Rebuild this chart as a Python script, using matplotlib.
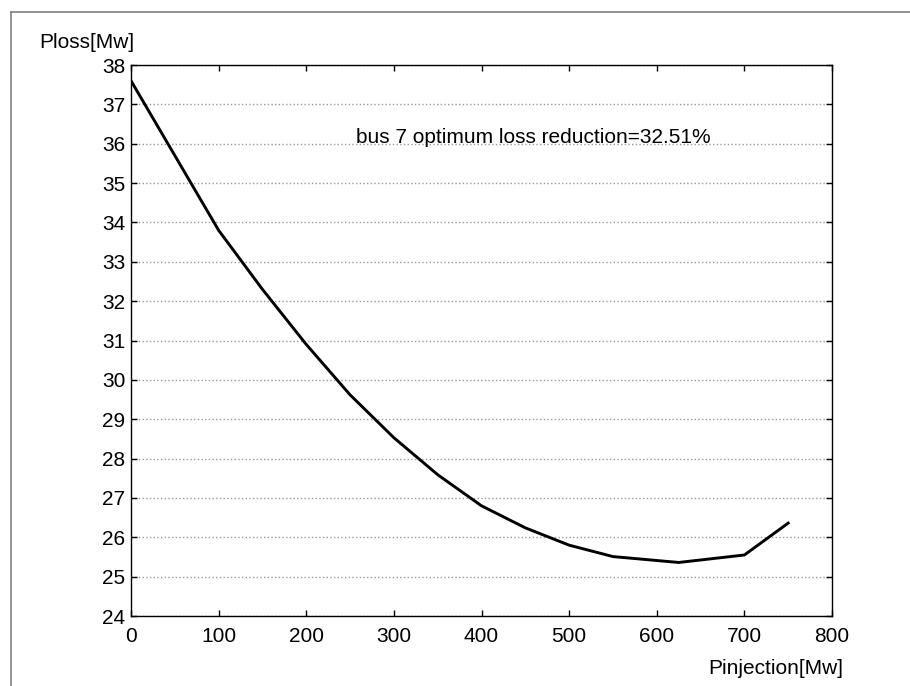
import numpy as np
import matplotlib.pyplot as plt
import matplotlib as mpl
from matplotlib.lines import Line2D

mpl.rcParams['font.family'] = ['Liberation Sans', 'DejaVu Sans']

# injected power [MW] and resulting loss [MW]
p_inj = [0, 50, 100, 150, 200, 250, 300, 350, 400, 450, 500, 550, 625, 700, 750]
p_loss = [37.6, 35.7, 33.8, 32.3, 30.9, 29.62, 28.53, 27.59, 26.8, 26.24,
          25.8, 25.51, 25.36, 25.55, 26.36]
x_ticks = list(range(0, 801, 100))
y_ticks = list(range(24, 39))

fig = plt.figure(figsize=(9.1, 6.86), dpi=100)
ax = fig.add_axes([131/910, 70/686, 701/910, 551/686])

ax.plot(p_inj, p_loss, color='black', lw=2.1, solid_joinstyle='miter')

ax.set_xlim(0, 800)
ax.set_ylim(24, 38)
ax.set_xticks(x_ticks)
ax.set_yticks(y_ticks)
ax.tick_params(direction='in', length=4, width=1, labelsize=15,
               top=True, right=True, pad=4)
ax.tick_params(axis='x', pad=8)
ax.yaxis.grid(True, color='#999999', ls=':', lw=1)
for s in ax.spines.values():
    s.set_linewidth(1)

ax.text(257, 36.17, 'bus 7 optimum loss reduction=32.51%', fontsize=15,
        va='center', ha='left')

fig.text(39/910, 1 - 43/686, 'Ploss[Mw]', fontsize=15, va='center', ha='left')
fig.text(843/910, 1 - 669/686, 'Pinjection[Mw]', fontsize=15,
         va='center', ha='right')

# outer frame (only top and left edges are visible)
fig.add_artist(Line2D([11/910, 1], [1 - 12/686, 1 - 12/686],
                      transform=fig.transFigure, color='#808080', lw=1.2))
fig.add_artist(Line2D([11/910, 11/910], [0, 1 - 12/686],
                      transform=fig.transFigure, color='#808080', lw=1.2))

plt.savefig('out.png', dpi=100)
